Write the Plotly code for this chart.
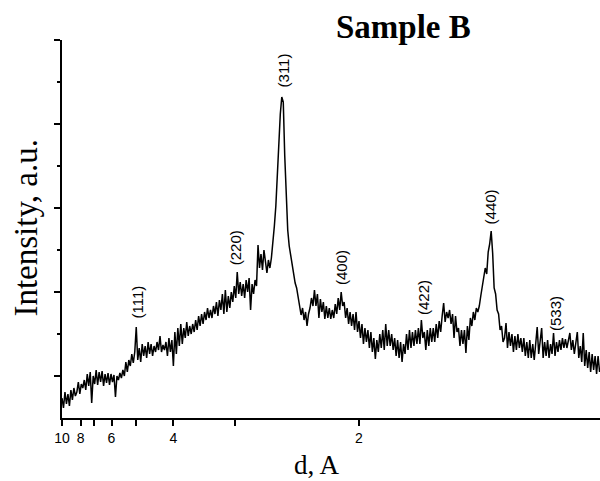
import numpy as np
import plotly.graph_objects as go

# ---- data -------------------------------------------------------------
# scan grid in reciprocal d-spacing (1/Angstrom)
q_start = 0.100
q_step = 0.002

# measured intensity (a.u.), one value per grid step
intensity = [
    20, 10, 26, 14, 24, 12, 28, 18, 30, 22,
    26, 36, 24, 34, 30, 38, 28, 44, 32, 46,
    15, 42, 34, 48, 33, 46, 36, 47, 32, 44,
    35, 45, 33, 44, 36, 43, 21, 42, 38, 45,
    40, 48, 42, 56, 46, 58, 52, 64, 55, 66,
    91, 58, 70, 56, 74, 62, 72, 60, 76, 64,
    74, 62, 72, 66, 76, 68, 82, 66, 73, 68,
    76, 62, 80, 66, 78, 52, 86, 64, 90, 72,
    94, 74, 90, 80, 96, 82, 92, 84, 94, 86,
    98, 88, 102, 92, 104, 94, 106, 98, 110, 100,
    108, 100, 112, 104, 116, 102, 118, 108, 124, 104,
    128, 106, 122, 110, 126, 116, 132, 120, 146, 124,
    136, 122, 134, 120, 138, 126, 140, 108, 134, 124,
    138, 132, 173, 150, 164, 148, 168, 156, 145, 158,
    150, 160, 174, 192, 212, 248, 284, 304, 321, 316,
    262, 214, 188, 172, 162, 151, 141, 135, 130, 121,
    114, 103, 110, 98, 106, 92, 104, 110, 120, 112,
    128, 112, 124, 100, 119, 106, 116, 99, 112, 100,
    110, 99, 108, 100, 114, 104, 120, 108, 126, 112,
    116, 100, 110, 94, 106, 92, 104, 88, 106, 86,
    97, 80, 94, 74, 90, 76, 88, 70, 86, 66,
    80, 59, 78, 66, 84, 70, 88, 68, 94, 72,
    88, 72, 84, 68, 80, 62, 78, 60, 76, 56,
    74, 64, 84, 68, 88, 70, 86, 72, 88, 74,
    90, 74, 98, 80, 86, 68, 88, 72, 90, 76,
    90, 76, 94, 80, 97, 86, 102, 115, 96, 106,
    100, 108, 94, 104, 80, 102, 86, 90, 72, 88,
    74, 88, 65, 92, 78, 100, 92, 106, 98, 110,
    106, 112, 122, 130, 140, 150, 144, 166, 174, 187,
    165, 130, 124, 108, 104, 88, 92, 76, 80, 95,
    70, 86, 72, 84, 66, 82, 68, 84, 70, 80,
    66, 80, 62, 76, 60, 78, 60, 74, 58, 72,
    91, 64, 76, 90, 60, 76, 62, 78, 60, 74,
    64, 85, 62, 76, 66, 78, 68, 80, 70, 79,
    70, 80, 85, 68, 78, 64, 76, 86, 60, 72,
    56, 85, 52, 68, 50, 66, 46, 64, 48, 62,
    44, 62, 46,
]

# Miller-index labels of the reflections
peak_labels = ["(111)", "(220)", "(311)", "(400)", "(422)", "(440)", "(533)"]
peak_d = [4.96, 3.00, 2.511, 2.102, 1.706, 1.477, 1.309]          # Angstrom
peak_label_height = [116, 170, 348, 151, 121, 211, 105]           # a.u.

# x-axis ticks (d-spacing, Angstrom)
tick_d = [10, 8, 7, 6, 5, 4, 3, 2]
tick_text = ["10", "8", "", "6", "", "4", "", "2"]

# y-axis ticks (a.u.)
y_major = [42, 126, 210, 294, 378]
y_minor = [84, 168, 252, 336]

title_text = "Sample B"
x_title = "d, A"
y_title = "Intensity, a.u."

# ---- figure -----------------------------------------------------------
q = q_start + q_step * np.arange(len(intensity))
q_max = 0.1 + 538 / 742.5

fig = go.Figure()
fig.add_trace(go.Scatter(
    x=q, y=intensity, mode="lines",
    line=dict(color="black", width=1.5),
    showlegend=False, hoverinfo="skip",
))

for lab, d, h in zip(peak_labels, peak_d, peak_label_height):
    fig.add_annotation(
        x=1.0 / d, y=h, xref="x", yref="y", text=lab, showarrow=False,
        textangle=-90, xanchor="center", yanchor="middle",
        font=dict(family="Liberation Sans, Arial, sans-serif", size=15, color="black"),
    )

serif = "Liberation Serif, Times New Roman, serif"
fig.add_annotation(
    x=0.634, y=1.034, xref="paper", yref="paper", text="<b>%s</b>" % title_text,
    showarrow=False, xanchor="center", yanchor="middle",
    font=dict(family=serif, size=33, color="black"),
)
fig.add_annotation(
    x=0.474, y=-0.125, xref="paper", yref="paper", text=x_title,
    showarrow=False, xanchor="center", yanchor="middle",
    font=dict(family=serif, size=27, color="black"),
)
fig.add_annotation(
    x=-0.066, y=0.505, xref="paper", yref="paper", text=y_title,
    showarrow=False, xanchor="center", yanchor="middle", textangle=-90,
    font=dict(family=serif, size=33, color="black"),
)

fig.update_xaxes(
    range=[0.1, q_max], showgrid=False, zeroline=False,
    showline=True, linecolor="black", linewidth=2,
    tickmode="array", tickvals=[1.0 / d for d in tick_d], ticktext=tick_text,
    ticks="outside", ticklen=6, tickwidth=1.5, tickcolor="black",
    tickfont=dict(family="Liberation Sans, Arial, sans-serif", size=14, color="black"),
)
fig.update_yaxes(
    range=[0, 378], showgrid=False, zeroline=False,
    showline=True, linecolor="black", linewidth=2,
    tickmode="array", tickvals=y_major, showticklabels=False,
    ticks="outside", ticklen=6, tickwidth=1.5, tickcolor="black",
    minor=dict(tickmode="array", tickvals=y_minor, ticks="outside",
               ticklen=3, tickwidth=1.5, tickcolor="black"),
)

fig.update_layout(
    width=600, height=481,
    margin=dict(l=62, r=0, t=40, b=63),
    plot_bgcolor="white", paper_bgcolor="white",
)

fig.write_html("out.html")
